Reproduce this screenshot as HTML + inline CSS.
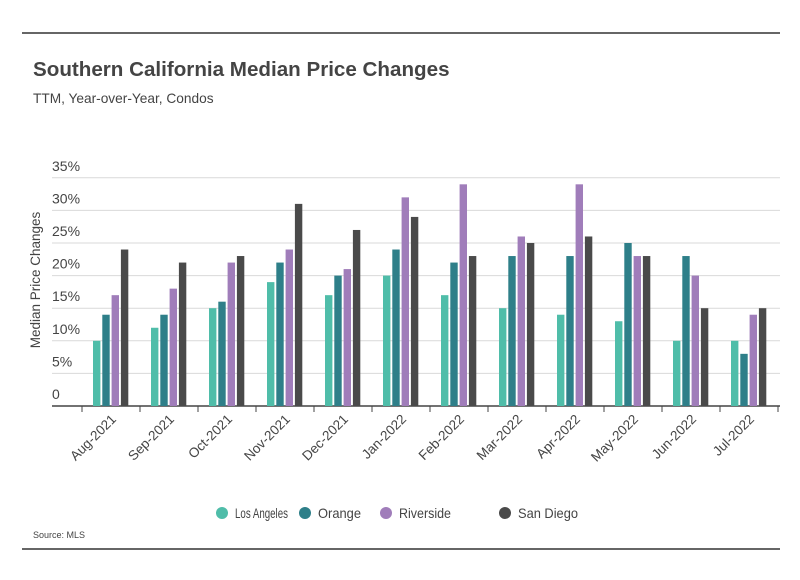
<!DOCTYPE html>
<html><head><meta charset="utf-8"><style>
body{margin:0;background:#fff;font-family:"Liberation Sans",sans-serif;}
svg text{font-family:"Liberation Sans",sans-serif;}
</style></head><body>
<svg id="c" width="800" height="575" xmlns="http://www.w3.org/2000/svg">
<line x1="22" y1="33" x2="780" y2="33" stroke="#333" stroke-width="1.5"/>
<text x="33" y="76" font-size="20.6" font-weight="bold" fill="#444">Southern California Median Price Changes</text>
<text x="33" y="103" font-size="13.7" fill="#444">TTM, Year-over-Year, Condos</text>
<text transform="translate(40,280) rotate(-90)" text-anchor="middle" font-size="13.5" fill="#444">Median Price Changes</text>
<g id="grid"></g><g id="bars"></g><g id="xlab"></g>
<g id="legend"></g>
<text x="33" y="538" font-size="9" fill="#444">Source:  MLS</text>
<line x1="22" y1="549" x2="780" y2="549" stroke="#333" stroke-width="1.5"/>
</svg>
<script>
const categories=["Aug-2021","Sep-2021","Oct-2021","Nov-2021","Dec-2021","Jan-2022","Feb-2022","Mar-2022","Apr-2022","May-2022","Jun-2022","Jul-2022"];
const seriesNames=["Los Angeles","Orange","Riverside","San Diego"];
const losAngeles=[10,12,15,19,17,20,17,15,14,13,10,10];
const orange=[14,14,16,22,20,24,22,23,23,25,23,8];
const riverside=[17,18,22,24,21,32,34,26,34,23,20,14];
const sanDiego=[24,22,23,31,27,29,23,25,26,23,15,15];
const yTicks=[0,5,10,15,20,25,30,35];
const yTickLabels=["0","5%","10%","15%","20%","25%","30%","35%"];
const colors=["#4fbda9","#2e7f89","#a07dba","#4a4a4a"];
const NS="http://www.w3.org/2000/svg";
const y0=406,pxPer=6.52,bandX0=82,bandW=58;
const y=v=>y0-v*pxPer;
const xb=i=>bandX0+i*bandW;
function mk(t,a,p){const e=document.createElementNS(NS,t);for(const k in a)e.setAttribute(k,a[k]);p.appendChild(e);return e;}
const grid=document.getElementById('grid');
yTicks.forEach((v,i)=>{
  if(v>0){const l=mk('line',{x1:52,x2:780,y1:y(v),y2:y(v),stroke:'#d9d9d9','stroke-width':1},grid);
  
  }
  const t=mk('text',{x:52,y:y(v)-7,'font-size':14,fill:'#444'},grid);t.textContent=yTickLabels[i];
  
  
});
const ax=mk('line',{x1:52,x2:780,y1:y0,y2:y0,stroke:'#444','stroke-width':1.5},grid);


const bars=document.getElementById('bars'),xl=document.getElementById('xlab');
const series=[losAngeles,orange,riverside,sanDiego];
for(let i=0;i<=categories.length;i++){
  const tk=mk('line',{x1:xb(i),x2:xb(i),y1:y0,y2:y0+6,stroke:'#444','stroke-width':1},grid);
  
  
}
categories.forEach((c,i)=>{
  series.forEach((s,j)=>{
    const x=xb(i)+11+j*9.3;
    const r=mk('rect',{x:x,y:y(s[i]),width:7.4,height:s[i]*pxPer,fill:colors[j]},bars);
    
    
  });
  const cx=xb(i)+bandW/2+6;
  const t=mk('text',{x:cx,y:420,'font-size':13.5,fill:'#444','text-anchor':'end',transform:`rotate(-45 ${cx} 420)`},xl);
  t.textContent=c;
  
  
});
const lg=document.getElementById('legend');
const lx=[222,305,386,505];
const lw=[53,43,52,60];
seriesNames.forEach((n,j)=>{
  const g=mk('g',{},lg);
  
  
  mk('circle',{cx:lx[j],cy:513,r:6,fill:colors[j]},g);
  const t=mk('text',{x:lx[j]+13,y:518,'font-size':14,fill:'#444',textLength:lw[j],lengthAdjust:'spacingAndGlyphs'},g);t.textContent=n;
});
</script>
</body></html>
